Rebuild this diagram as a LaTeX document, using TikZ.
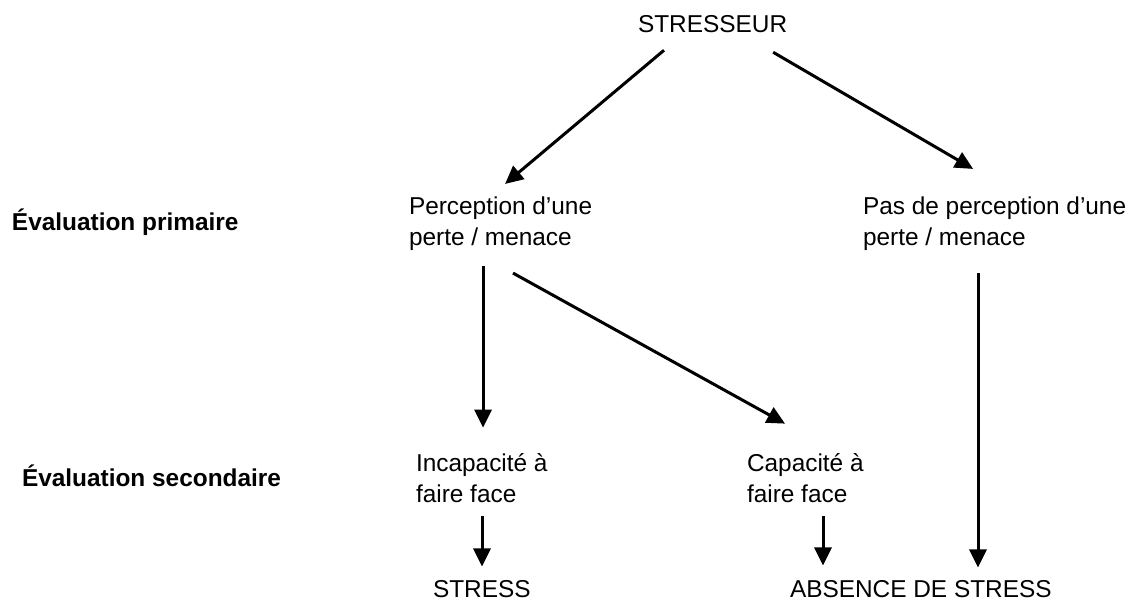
\documentclass[tikz,border=0pt]{standalone}
\usepackage{fontspec}
\setmainfont{Liberation Sans}
\usetikzlibrary{arrows.meta,calc}
\tikzset{every picture/.style={line width=0.75pt}}

\begin{document}
\begin{tikzpicture}[x=0.75pt,y=0.75pt,yscale=-1,xscale=1,
	txt/.style={inner sep=0pt,outer sep=0pt,anchor=base west,align=left,font=\fontsize{18.3}{22.8}\selectfont},
	arr/.style={line width=2.25pt,-{Triangle[length=13.5pt,width=12.75pt]}}]
	\useasboundingbox (0,0) rectangle (1137,601);
	
	% Text Node
	\draw (638,32) node[txt] (stresseur) {STRESSEUR};
	% Text Node
	\draw (12,230) node[txt,font=\fontsize{18.3}{22.8}\selectfont\bfseries] (prim) {Évaluation primaire};
	% Text Node
	\draw (409,245) node[txt] (perc) {Perception d’une\\perte / menace};
	% Text Node
	\draw (863,245) node[txt] (pasperc) {Pas de perception d’une\\perte / menace};
	% Text Node
	\draw (22,486) node[txt,font=\fontsize{18.3}{22.8}\selectfont\bfseries] (sec) {Évaluation secondaire};
	% Text Node
	\draw (416,502) node[txt] (incap) {Incapacité à\\faire face};
	% Text Node
	\draw (747,502) node[txt] (cap) {Capacité à\\faire face};
	% Text Node
	\draw (433,597) node[txt] (stress) {STRESS};
	% Text Node
	\draw (790,597) node[txt] (absence) {ABSENCE DE STRESS};
	
	%Straight Lines
	\draw[arr] ($(stresseur.south west)+(26,18)$) -- ($(perc.north)+(4.5,-13)$);
	%Straight Lines
	\draw[arr] ($(stresseur.south east)+(-14,20)$) -- ($(pasperc.north)+(-21.5,-28)$);
	%Straight Lines
	\draw[arr] ($(perc.south west)+(74,16)$) -- ($(incap.north west)+(67,-26)$);
	%Straight Lines
	\draw[arr] ($(perc.south west)+(104,23)$) -- ($(cap.north west)+(38,-30)$);
	%Straight Lines
	\draw[arr] ($(pasperc.south west)+(115,23)$) -- ($(absence.north west)+(188,-12.5)$);
	%Straight Lines
	\draw[arr] ($(incap.south west)+(66,14)$) -- ($(stress.north west)+(49,-13.5)$);
	%Straight Lines
	\draw[arr] ($(cap.south west)+(76,14)$) -- ($(absence.north west)+(33,-14.5)$);
	
\end{tikzpicture}
\end{document}
